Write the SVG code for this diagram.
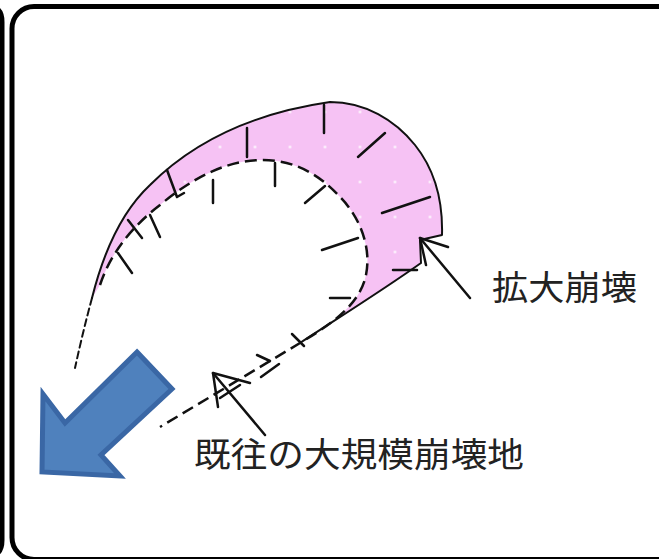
<svg xmlns="http://www.w3.org/2000/svg" width="659" height="559" viewBox="0 0 659 559">
  <style>
    .frame { fill: none; stroke: #000; stroke-width: 5; }
    .rim { fill: none; stroke: #111; stroke-width: 2; stroke-linecap: round; stroke-linejoin: round; }
    .scarp { fill: none; stroke: #111; stroke-width: 2.5; stroke-dasharray: 12 6; stroke-linecap: butt; }
    .tick { fill: none; stroke: #111; stroke-width: 2.5; stroke-linecap: round; stroke-linejoin: round; }
    .pointer { fill: none; stroke: #111; stroke-width: 2.5; stroke-linecap: round; stroke-linejoin: round; }
    .label { font-family: "Noto Sans CJK JP", "Noto Sans", sans-serif; font-size: 34px; fill: #222; }
  </style>
  <defs>
    <pattern id="speckle" patternUnits="userSpaceOnUse" x="272.5" y="129.5" width="35" height="35">
      <rect width="35" height="35" fill="#f6c2f4"/>
      <circle cx="17.5" cy="17.5" r="1.3" fill="#ffffff"/>
    </pattern>
  </defs>

  <rect width="659" height="559" fill="#ffffff"/>

  <!-- page frame -->
  <g id="frame">
    <path class="frame" d="M -12,6.5 Q 2,6.5 2,22 V 540 Q 2,556 -12,556"/>
    <rect class="frame" x="12" y="6.5" width="670" height="553" rx="22" ry="22"/>
  </g>

  <!-- enlarged collapse zone -->
  <g id="collapse-zone">
    <path fill="url(#speckle)" d="M 92,298 C 102,258 118,215 150,185 C 185,150 240,115 330,102 C 365,102 395,120 415,145 C 435,170 443,200 442,235 L 420,240 L 421,263 C 380,292 335,320 300,343 C 330,325 360,305 366,275 C 372,245 358,215 340,197 C 320,175 295,160 262,160 C 225,160 190,180 160,205 C 130,228 110,255 100,285 Z"/>
    <path class="rim" d="M 92,298 C 102,258 118,215 150,185 C 185,150 240,115 330,102 C 365,102 395,120 415,145 C 435,170 443,200 442,235 L 420,240 L 421,263 C 380,292 335,320 300,343"/>
    <path class="rim" stroke-dasharray="7 4" stroke-width="2.5" d="M 92,298 C 86,320 80,345 75,368"/>
  </g>

  <!-- scarp of the former large-scale collapse -->
  <g id="former-scarp">
    <path class="scarp" d="M 100,285 C 110,255 130,228 160,205 C 190,180 225,160 262,160 C 295,160 320,175 340,197 C 358,215 372,245 366,275 C 360,305 330,325 300,343 L 160,427"/>
  </g>

  <!-- hachures -->
  <g id="hachures">
    <path class="tick" d="M 247,128 V 157"/>
    <path class="tick" d="M 324,105 V 133"/>
    <path class="tick" d="M 358,157 L 385,133"/>
    <path class="tick" d="M 382,213 L 430,197"/>
    <path class="tick" d="M 393,270 H 417"/>
    <path class="tick" d="M 167,170 L 177,197 L 184,193"/>
    <path class="tick" d="M 128,220 L 142,238"/>
    <path class="tick" d="M 150,215 L 160,237"/>
    <path class="tick" d="M 118,253 L 132,273"/>
    <path class="tick" d="M 213,180 V 203"/>
    <path class="tick" d="M 275,163 V 186"/>
    <path class="tick" d="M 305,203 L 325,186"/>
    <path class="tick" d="M 322,250 L 358,238"/>
    <path class="tick" d="M 330,298 H 350"/>
    <path class="tick" d="M 292,334 L 304,346"/>
    <path class="tick" d="M 257,355 L 270,361"/>
    <path class="tick" d="M 261,377 L 279,364"/>
  </g>

  <!-- movement direction -->
  <g id="movement-arrow">
    <path fill="#4f81bd" stroke="#3a67a5" stroke-width="5" stroke-linejoin="miter"
          d="M 137,352 L 172,389 L 101,455 L 120,476 L 42,472 L 43,394 L 65,423 Z"/>
  </g>

  <!-- labels -->
  <g id="label-enlarged">
    <text class="label" x="492" y="300" textLength="145" lengthAdjust="spacingAndGlyphs">拡大崩壊</text>
  </g>
  <g id="label-former">
    <text class="label" x="194" y="467" textLength="330" lengthAdjust="spacingAndGlyphs">既往の大規模崩壊地</text>
  </g>

  <!-- leader arrows -->
  <g id="connectors">
    <path class="pointer" d="M 470,298 L 420,238"/>
    <path class="pointer" d="M 448,247 L 420,238 L 426,265"/>
    <path class="pointer" d="M 265,435 L 213,373"/>
    <path class="pointer" d="M 218,407 L 213,373 L 250,383"/>
    <path class="pointer" d="M 220,398 L 240,385"/>
  </g>
</svg>
